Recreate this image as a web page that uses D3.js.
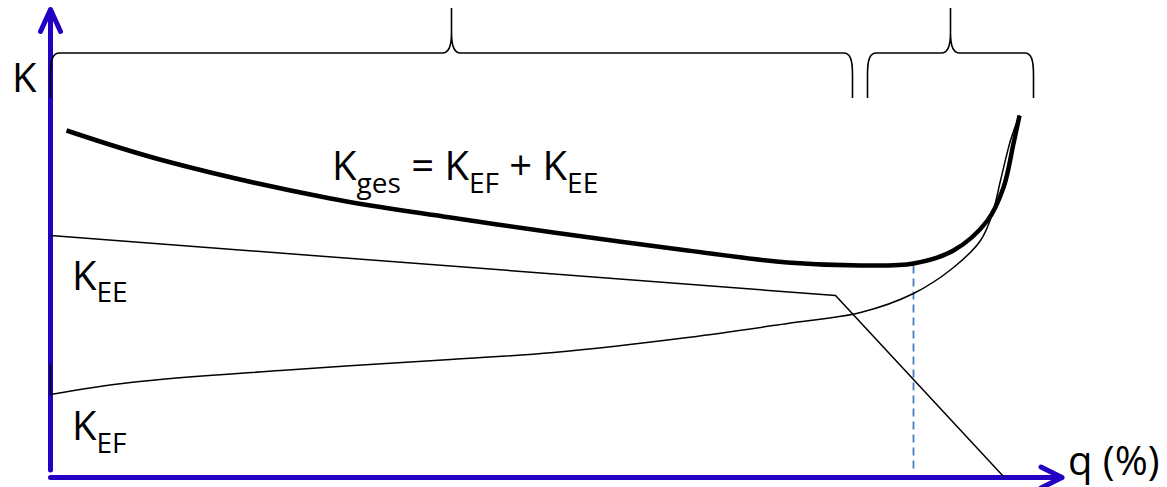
<!DOCTYPE html>
<html>
<head>
<meta charset="utf-8">
<script src="https://cdn.jsdelivr.net/npm/d3@7"></script>
<style>
  body { margin: 0; background: #fff; }
  svg { display: block; }
  text { font-family: "Open Sans", sans-serif; fill: #000; }
</style>
</head>
<body>
<div id="container"></div>
<script>
// K_ges = K_EF + K_EE (q in %, K in relative units)
const qGes = [1.6, 11.3, 28, 40, 50.3, 63.7, 73.7, 81, 86.3, 90.3, 93.7, 95.3, 96.3, 96.9];
const kGes = [86.75, 79.25, 69.75, 65, 61.25, 56.75, 53.75, 53, 53.5, 56.75, 64.25, 72.5, 83.5, 90.5];

const qEE = [0, 78.5, 95.3];
const kEE = [60.5, 45.5, 0.25];

const qEF = [0, 0, 8, 23, 40, 50.3, 63.7, 73.7, 81, 86.3, 90.3, 93, 94.2, 95, 96, 96.9];
const kEF = [28.5, 20.75, 23.75, 26.75, 29.5, 31.25, 35, 38.5, 41.25, 46, 52.5, 59.25, 66, 74.25, 84.25, 90.5];

const qOpt = 86.3;
const kOpt = 53.5;

const braceFrom = [0, 81.7];
const braceTo = [80.2, 98.3];

const WIDTH = 1167;
const HEIGHT = 487;
const AXIS = "#2300c4";

const svg = d3.select("#container")
  .append("svg")
  .attr("width", WIDTH)
  .attr("height", HEIGHT);

const x = d3.scaleLinear().domain([0, 100]).range([50.5, 1050.5]);
const y = d3.scaleLinear().domain([0, 100]).range([477.5, 77.5]);

const zip = (qs, ks) => qs.map((q, i) => [q, ks[i]]);

const smooth = d3.line()
  .x(d => x(d[0]))
  .y(d => y(d[1]))
  .curve(d3.curveCatmullRom.alpha(0.5));

const straight = d3.line()
  .x(d => x(d[0]))
  .y(d => y(d[1]));

// axes with open arrow heads
const x0 = x(0), yBase = y(0);
const yTip = 9.5, xTip = 1062;

svg.append("path")
  .attr("d", `M${x0},470 L${x0},${yTip} M${x0 - 10},${yTip + 22} L${x0},${yTip} L${x0 + 10},${yTip + 22}`)
  .attr("fill", "none")
  .attr("stroke", AXIS)
  .attr("stroke-width", 5)
  .attr("stroke-linecap", "round")
  .attr("stroke-linejoin", "round");

svg.append("path")
  .attr("d", `M${x0},${yBase} L${xTip},${yBase} M${xTip - 21},${yBase - 10.5} L${xTip},${yBase} L${xTip - 21},${yBase + 10.5}`)
  .attr("fill", "none")
  .attr("stroke", AXIS)
  .attr("stroke-width", 5)
  .attr("stroke-linecap", "round")
  .attr("stroke-linejoin", "round");

// braces on top
const yEnd = 98, yMid = 53, yTop = 8;
function bracePath(a, b) {
  const xa = x(a), xb = x(b), xm = (xa + xb) / 2;
  return `M${xa},${yEnd} L${xa},${yMid + 22} C${xa},${yMid + 7} ${xa + 2},${yMid} ${xa + 9},${yMid}` +
    ` L${xm - 9},${yMid} C${xm - 3},${yMid} ${xm},${yMid - 7} ${xm},${yMid - 20} L${xm},${yTop}` +
    ` M${xm},${yMid - 20} C${xm},${yMid - 7} ${xm + 3},${yMid} ${xm + 9},${yMid}` +
    ` L${xb - 9},${yMid} C${xb - 2},${yMid} ${xb},${yMid + 7} ${xb},${yMid + 22} L${xb},${yEnd}`;
}

svg.selectAll(".brace")
  .data(braceFrom.map((a, i) => [a, braceTo[i]]))
  .enter()
  .append("path")
  .attr("class", "brace")
  .attr("d", d => bracePath(d[0], d[1]))
  .attr("fill", "none")
  .attr("stroke", "#000")
  .attr("stroke-width", 1.6);

// dashed marker at the optimum
svg.append("line")
  .attr("x1", x(qOpt)).attr("x2", x(qOpt))
  .attr("y1", y(kOpt) + 2).attr("y2", 473)
  .attr("stroke", "#4a7ebb")
  .attr("stroke-width", 1.8)
  .attr("stroke-dasharray", "8,5");

// K_EE
svg.append("path")
  .attr("d", straight(zip(qEE, kEE)))
  .attr("fill", "none")
  .attr("stroke", "#000")
  .attr("stroke-width", 1.5);

// K_EF: short tick at the axis then the curve
const ef = zip(qEF, kEF);
svg.append("path")
  .attr("d", straight(ef.slice(0, 2)) + smooth(ef.slice(1)))
  .attr("fill", "none")
  .attr("stroke", "#000")
  .attr("stroke-width", 1.5);

// K_ges
svg.append("path")
  .attr("d", smooth(zip(qGes, kGes)))
  .attr("fill", "none")
  .attr("stroke", "#000")
  .attr("stroke-width", 4.5);

// labels
function label(px, py, parts) {
  const t = svg.append("text").attr("x", px).attr("y", py);
  parts.forEach(p => {
    t.append("tspan")
      .attr("font-size", p.sub ? 28 : 40)
      .attr("dy", p.dy || 0)
      .text(p.s);
  });
}

label(12, 92, [{ s: "K" }]);
label(1068, 475, [{ s: "q (%)" }]);
label(72, 290, [{ s: "K" }, { s: "EE", sub: true, dy: 12 }]);
label(72, 440, [{ s: "K" }, { s: "EF", sub: true, dy: 13 }]);
label(332, 180, [
  { s: "K" }, { s: "ges", sub: true, dy: 13 },
  { s: " = K", dy: -13 }, { s: "EF", sub: true, dy: 13 },
  { s: " + K", dy: -13 }, { s: "EE", sub: true, dy: 13 }
]);
</script>
</body>
</html>
